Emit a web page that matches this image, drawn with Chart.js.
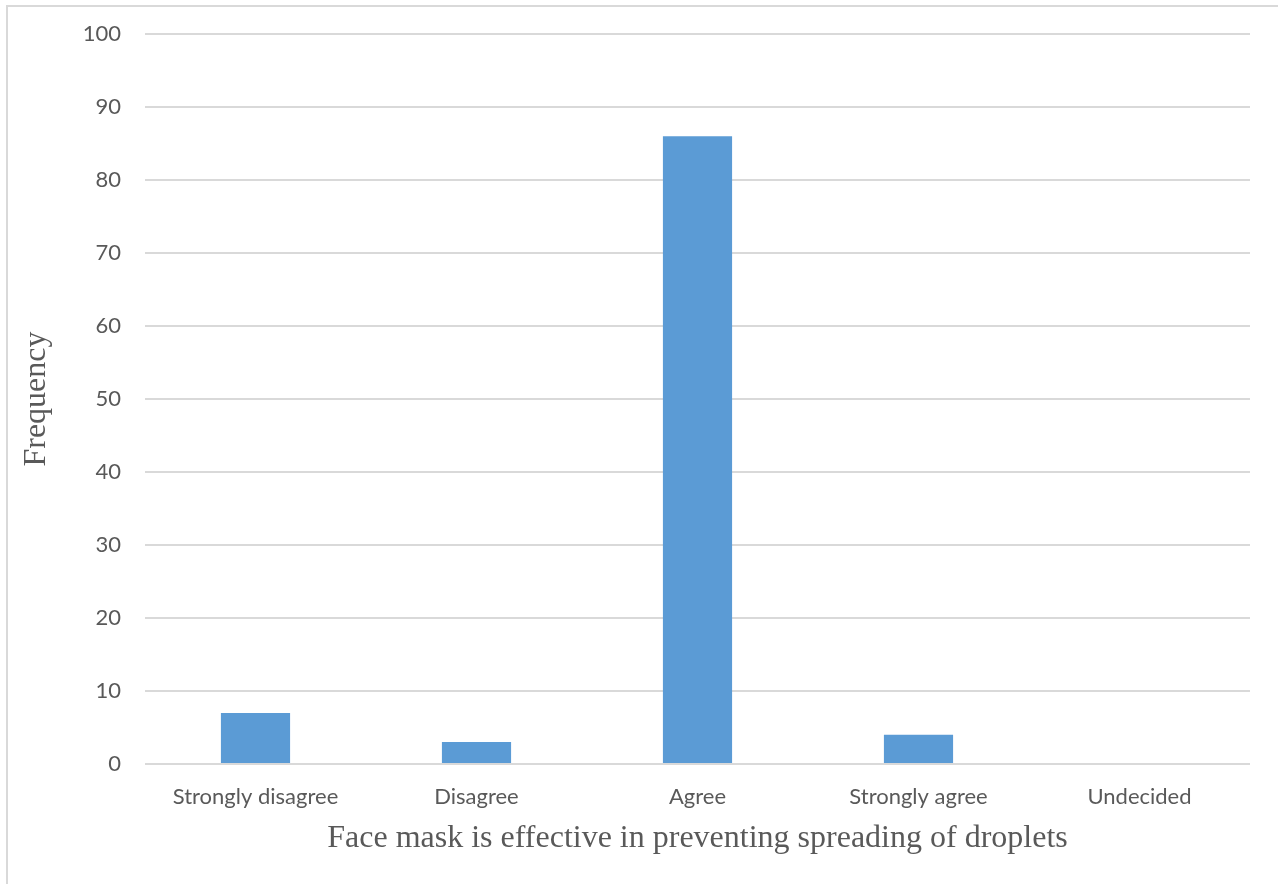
<!DOCTYPE html>
<html>
<head>
<meta charset="utf-8">
<script src="https://cdn.jsdelivr.net/npm/chart.js@4.4.1/dist/chart.umd.min.js"></script>
<style>
  html, body { margin: 0; padding: 0; background: #fff; }
  #frame { position: absolute; left: 6px; top: 5px; width: 1290px; height: 900px; border: 2px solid #d9d9d9; box-sizing: border-box; }
  #wrap { position: absolute; left: 0; top: 0; width: 1278px; height: 884px; }
</style>
</head>
<body>
<div id="frame"></div>
<div id="wrap"><canvas id="c" width="1278" height="884"></canvas></div>
<script>
const categories = ['Strongly disagree', 'Disagree', 'Agree', 'Strongly agree', 'Undecided'];
const frequency = [7, 3, 86, 4, 0];
const yTicks = [0, 10, 20, 30, 40, 50, 60, 70, 80, 90, 100];

const tickFont = { family: 'Lato, "Open Sans", sans-serif', size: 22 };
const titleFont = { family: '"Liberation Serif", "Times New Roman", serif', size: 32 };

new Chart(document.getElementById('c'), {
  type: 'bar',
  data: {
    labels: categories,
    datasets: [{
      label: 'Frequency',
      data: frequency,
      backgroundColor: '#5b9bd5',
      borderWidth: 0,
      barPercentage: 0.313,
      categoryPercentage: 1.0
    }]
  },
  options: {
    responsive: false,
    animation: false,
    layout: { padding: { top: 34, right: 28, bottom: 26, left: 0 } },
    plugins: { legend: { display: false }, tooltip: { enabled: false } },
    scales: {
      x: {
        grid: { display: false },
        border: { display: false },
        ticks: { color: '#595959', font: tickFont, padding: 12, maxRotation: 0 },
        title: { display: true, text: 'Face mask is effective in preventing spreading of droplets', color: '#595959', font: titleFont, padding: { top: 0, bottom: 0 } },
        afterFit(scale) { scale.height = 94; }
      },
      y: {
        min: 0,
        max: 100,
        afterBuildTicks(scale) { scale.ticks = yTicks.map(v => ({ value: v })); },
        grid: { color: '#d9d9d9', lineWidth: 2, drawTicks: false },
        border: { display: false },
        ticks: { color: '#595959', font: tickFont, padding: 24 },
        title: { display: true, text: 'Frequency', color: '#595959', font: titleFont, padding: { top: 17, bottom: 0 } },
        afterFit(scale) {
          scale.width = 145;
          scale.paddingTop = 0;
          scale.paddingBottom = 0;
        }
      }
    }
  }
});
</script>
</body>
</html>
